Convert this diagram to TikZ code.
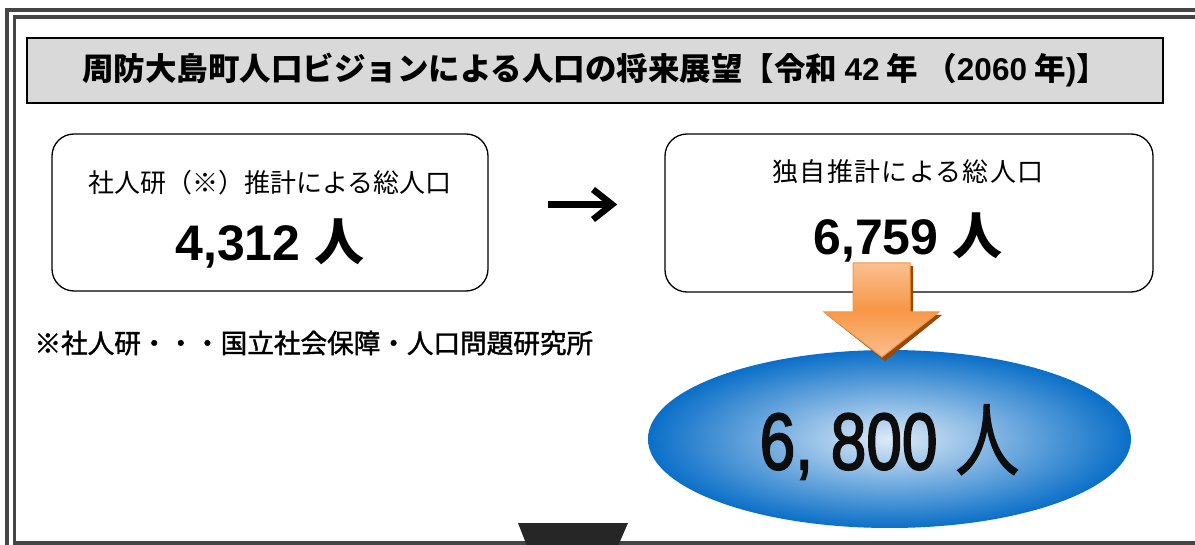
\documentclass[tikz,border=0pt]{standalone}
\usepackage{fontspec}
\newfontfamily\jp{Noto Sans CJK JP}
\newfontfamily\jpmed{Noto Sans CJK JP}[FakeBold=1.5]
\newfontfamily\jpwide{Noto Sans CJK JP}[LetterSpace=5]
\newfontfamily\ar{Liberation Sans}
\newfontfamily\armed{Liberation Sans}[FakeBold=2.5]
\definecolor{framegray}{HTML}{454545}
\definecolor{titlefill}{HTML}{D9D9D9}
\definecolor{orlight}{HTML}{FAC090}
\definecolor{ormid}{HTML}{F79646}
\definecolor{orshadow}{HTML}{984807}
\definecolor{blueout}{HTML}{0A6FC8}
\definecolor{bluein}{HTML}{DDEAF7}
\definecolor{darktrap}{HTML}{262626}
\tikzset{
  framebox/.style={draw=framegray, line width=3.6pt},
  roundbox/.style={draw=black, line width=1.3pt, rounded corners=22pt},
  bignum/.style={font=\ar\bfseries\fontsize{50}{55}\selectfont},
}
\begin{document}
\begin{tikzpicture}[x=1pt,y=-1pt]
\useasboundingbox (0,0) rectangle (1195,545);
\clip (0,0) rectangle (1195,545);
\fill[white] (0,0) rectangle (1195,545);
% outer double frame
\draw[framebox] (7,600) -- (7,10) -- (1300,10);
\draw[framebox] (1300,543) -- (14.5,543) -- (14.5,17) -- (1300,17);
% title
\node[draw=black, line width=1.5pt, fill=titlefill, minimum width=1136pt, minimum height=65pt, inner sep=0pt,
  font=\jp\bfseries\fontsize{31.5}{34}\selectfont] (title) at (595,70.5)
  {周防大島町人口ビジョンによる人口の将来展望【令和 {\ar\bfseries 42} 年 （{\ar\bfseries 2060} 年{\ar\bfseries )}】};
% left box
\draw[roundbox] (52,134) rectangle (488,291);
\node[font=\jp\fontsize{26}{28}\selectfont] (l1) at (270,183) {社人研（※）推計による総人口};
\node[bignum] (l2) at (270,243) {4,312 {\jp\bfseries 人}};
% right box
\draw[roundbox] (665,134) rectangle (1153,292);
\node[font=\jpwide\fontsize{26}{28}\selectfont] (r1) at (908,172) {独自推計による総人口};
\node[bignum] (r2) at (908,237) {6,759 {\jp\bfseries 人}};
% black arrow
\coordinate (a1) at (548,204.5);
\coordinate (a2) at (611,204.5);
\draw[line width=6.5pt] (a1) -- (a2);
\draw[line width=6.5pt, miter limit=10] ([xshift=-18pt,yshift=-15pt]a2) -- ([xshift=1pt]a2) -- ([xshift=-18pt,yshift=15pt]a2);
% footnote
\node[anchor=west, font=\jpmed\fontsize{26.6}{28}\selectfont] (note) at (31,343) {※社人研・・・国立社会保障・人口問題研究所};
% ellipse
\shade[inner color=bluein, outer color=blueout] (889.5,439) ellipse [x radius=241.5, y radius=89];
\node[font=\armed\fontsize{80}{88}\selectfont, text=black!95] (res) at (889.5,442)
  {\scalebox{0.8}[1]{6, 800 {\jpmed\fontsize{80}{80}\selectfont 人}}};
% orange arrow shadow
\fill[orshadow] (856,266) -- (913,266) -- (913,315) -- (942,315) -- (885,361) -- (827,315) -- (856,315) -- cycle;
% orange arrow
\shade[top color=orlight, bottom color=orlight, middle color=ormid, draw=ormid, line width=1pt]
  (853,263) -- (910,263) -- (910,312) -- (939,312) -- (882,357) -- (824,312) -- (853,312) -- cycle;
% bottom trapezoid
\fill[darktrap] (518,523) -- (628,523) -- (618,546) -- (527,546) -- cycle;
\end{tikzpicture}
\end{document}
